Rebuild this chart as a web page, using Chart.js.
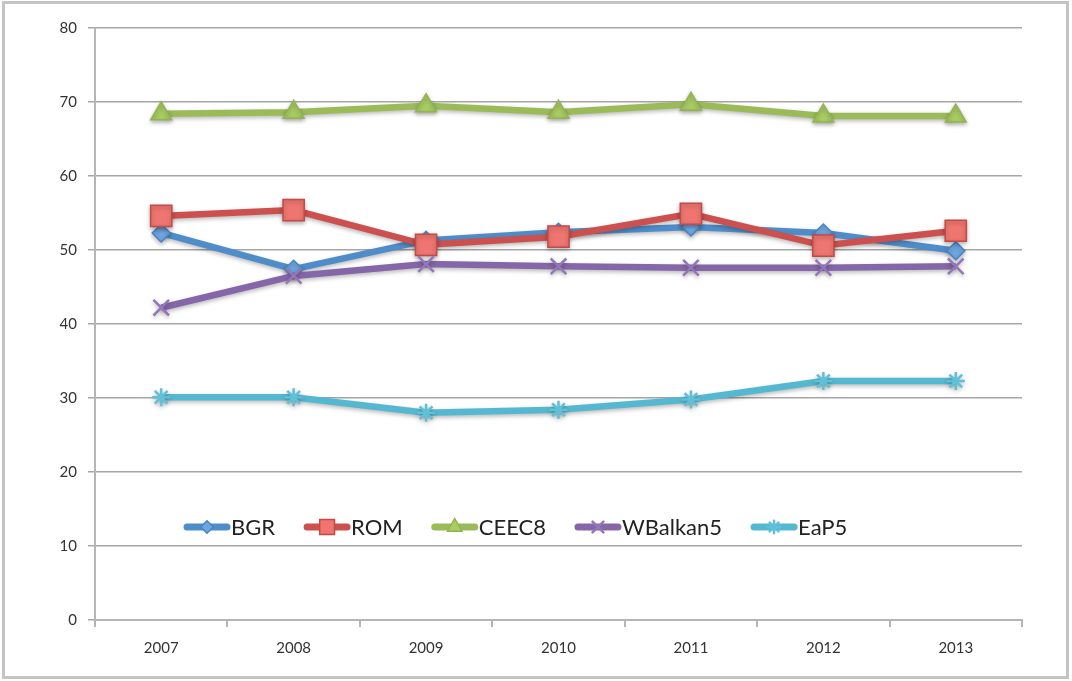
<!DOCTYPE html>
<html>
<head>
<meta charset="utf-8">
<script src="https://cdn.jsdelivr.net/npm/chart.js@4.4.1/dist/chart.umd.min.js"></script>
<style>
  html, body { margin: 0; padding: 0; background: #ffffff; }
  #wrap { position: relative; width: 1072px; height: 681px; }
</style>
</head>
<body>
<div id="wrap"><canvas id="chart" width="1072" height="681"></canvas></div>
<script>
// Values (index by year).
const years = ['2007', '2008', '2009', '2010', '2011', '2012', '2013'];
const bgr = [52.3, 47.4, 51.3, 52.4, 53.1, 52.3, 49.9];
const rom = [54.6, 55.4, 50.7, 51.8, 54.9, 50.6, 52.6];
const ceec8 = [68.4, 68.6, 69.5, 68.6, 69.7, 68.1, 68.1];
const wBalkan5 = [42.2, 46.5, 48.1, 47.8, 47.6, 47.6, 47.8];
const eaP5 = [30.1, 30.1, 28.0, 28.4, 29.8, 32.3, 32.3];
const yTicks = [0, 10, 20, 30, 40, 50, 60, 70, 80];

const FONT = 'Lato, "Open Sans", sans-serif';

function series(label, data, line, fill, edge, style, radius, edgeWidth, order) {
  return {
    label,
    data,
    borderColor: line,
    borderWidth: 6.5,
    tension: 0,
    pointStyle: style,
    pointRadius: radius,
    pointBackgroundColor: fill,
    pointBorderColor: edge,
    pointBorderWidth: edgeWidth,
    order // Excel paints later series on top
  };
}

const datasets = [
  series('BGR', bgr, '#4f8dca', '#6ea6e2', '#4a84c0', 'rectRot', 9, 1.5, 4),
  series('ROM', rom, '#cc514e', '#ee7570', '#c24a47', 'rect', 15, 1.5, 3),
  series('CEEC8', ceec8, '#9bbb59', '#a9cd63', '#93b354', 'triangle', 12, 1.5, 2),
  series('WBalkan5', wBalkan5, '#8566a8', '#8c6db2', '#9377b8', 'crossRot', 11, 2.5, 1),
  series('EaP5', eaP5, '#55b8d1', '#5fc0d8', '#5fc0d8', 'star', 9, 2.5, 0)
];

// Grey frame round the whole picture.
const frame = {
  id: 'frame',
  beforeDraw(chart) {
    const ctx = chart.ctx;
    ctx.save();
    ctx.fillStyle = '#ffffff';
    ctx.fillRect(0, 0, chart.width, chart.height);
    ctx.strokeStyle = '#c4c4c4';
    ctx.lineWidth = 3;
    ctx.strokeRect(3.5, 2.5, 1064, 675);
    ctx.restore();
  }
};

// Soft drop shadow under each line, as in the Excel original.
const shadow = {
  id: 'shadow',
  beforeDatasetDraw(chart) {
    const ctx = chart.ctx;
    ctx.save();
    ctx.shadowColor = 'rgba(0,0,0,0.28)';
    ctx.shadowBlur = 4;
    ctx.shadowOffsetY = 2;
  },
  afterDatasetDraw(chart) {
    chart.ctx.restore();
  }
};

// Legend sits inside the plot, one row above the 10 gridline.
const innerLegend = {
  id: 'innerLegend',
  afterDraw(chart) {
    const ctx = chart.ctx;
    const y = 527;
    let x = 184;
    ctx.save();
    ctx.font = '22px ' + FONT;
    ctx.textBaseline = 'middle';
    chart.data.datasets.forEach((ds) => {
      ctx.strokeStyle = ds.borderColor;
      ctx.lineWidth = 7;
      ctx.lineCap = 'round';
      ctx.beginPath();
      ctx.moveTo(x + 3, y);
      ctx.lineTo(x + 43, y);
      ctx.stroke();
      ctx.fillStyle = ds.pointBackgroundColor;
      ctx.strokeStyle = ds.pointBorderColor;
      ctx.lineWidth = ds.pointBorderWidth;
      Chart.helpers.drawPoint(ctx, {
        pointStyle: ds.pointStyle,
        radius: ds.pointRadius * 0.7,
        rotation: 0,
        borderWidth: ds.pointBorderWidth
      }, x + 23, y);
      ctx.fillStyle = '#222222';
      ctx.fillText(ds.label, x + 47, y + 1);
      x += 47 + ctx.measureText(ds.label).width + 29;
    });
    ctx.restore();
  }
};

new Chart(document.getElementById('chart'), {
  type: 'line',
  data: { labels: years, datasets },
  plugins: [frame, shadow, innerLegend],
  options: {
    responsive: false,
    animation: false,
    layout: { padding: { top: 28, right: 50, left: 0, bottom: 0 } },
    plugins: { legend: { display: false }, tooltip: { enabled: false } },
    scales: {
      x: {
        offset: true,
        grid: { offset: true, drawOnChartArea: false, drawTicks: true, tickLength: 7, color: '#b5b5b5', lineWidth: 2 },
        border: { color: '#b5b5b5', width: 2 },
        ticks: { color: '#333333', font: { family: FONT, size: 15 }, padding: 12 },
        afterFit(s) { s.height = 61; }
      },
      y: {
        min: 0,
        max: 80,
        afterBuildTicks(s) { s.ticks = yTicks.map((v) => ({ value: v })); },
        grid: { color: '#a6a6a6', lineWidth: 1.5, drawTicks: true, tickLength: 7 },
        border: { color: '#b5b5b5', width: 2 },
        ticks: { color: '#333333', font: { family: FONT, size: 15 }, padding: 11 },
        afterFit(s) { s.width = 95; }
      }
    }
  }
});
</script>
</body>
</html>
